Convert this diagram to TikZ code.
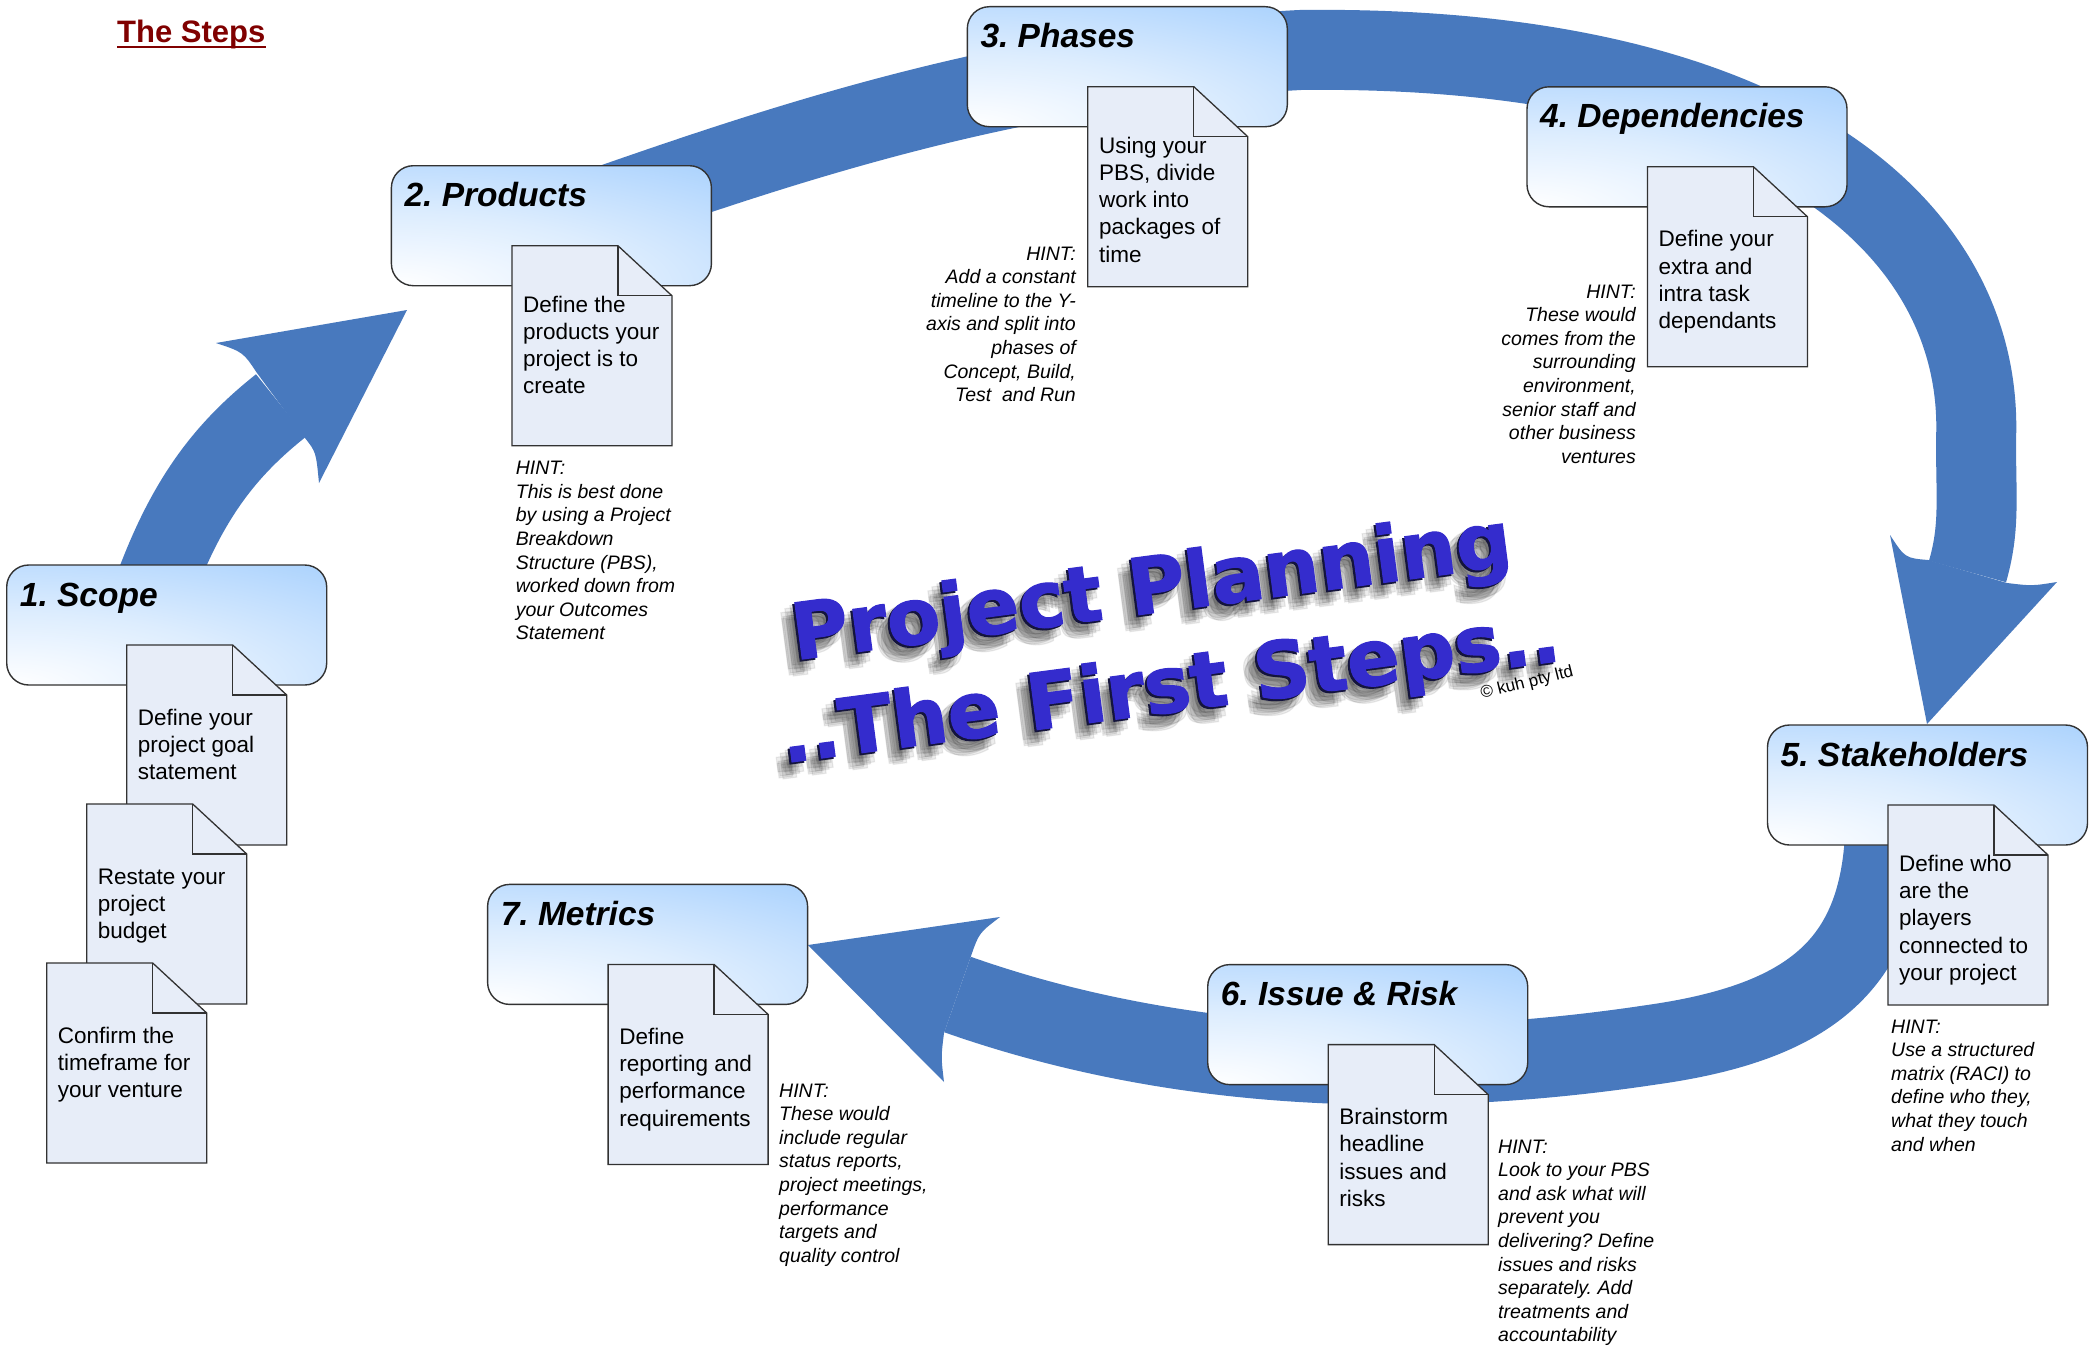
\documentclass[tikz,border=0pt]{standalone}
\usepackage{fontspec}
\setmainfont{Liberation Sans}
\newfontfamily\heavyfont[FakeBold=1.5]{DejaVu Sans}
\usetikzlibrary{calc}
\definecolor{arrowblue}{RGB}{72,121,190}
\definecolor{boxblue}{RGB}{157,203,253}
\definecolor{docfill}{RGB}{231,237,248}
\definecolor{edgegray}{RGB}{50,50,50}
\definecolor{stepsred}{RGB}{128,0,0}
\definecolor{ppblue}{RGB}{52,44,205}
\definecolor{ppdark}{RGB}{20,20,60}
\pgfdeclareradialshading{boxglow}{\pgfpoint{0bp}{0bp}}{color(0bp)=(white); color(7bp)=(boxblue!35!white); color(17bp)=(boxblue); color(50bp)=(boxblue)}
\tikzset{
  band/.style={draw=arrowblue, line width=80pt},
  head/.style={fill=arrowblue},
  boxframe/.style={draw=edgegray, line width=1.4pt, rounded corners=22pt, minimum width=320pt, minimum height=120pt, anchor=north west, inner sep=0pt, outer sep=0pt},
  boxtitle/.style={anchor=base west, inner sep=0pt, font=\fontsize{33.5}{40}\selectfont\bfseries\itshape},
  docframe/.style={minimum width=160pt, minimum height=200pt, anchor=north west, inner sep=0pt, outer sep=0pt},
  docline/.style={draw=edgegray, line width=1.3pt, fill=docfill, line join=miter},
  doctext/.style={anchor=base west, inner sep=0pt, align=left, font=\fontsize{22.5}{27.2}\selectfont},
  hintL/.style={anchor=base west, inner sep=0pt, align=left, font=\fontsize{19.5}{23.6}\selectfont\itshape},
  hintR/.style={anchor=base east, inner sep=0pt, align=right, font=\fontsize{19.5}{23.6}\selectfont\itshape},
  ppfont/.style={font=\heavyfont\bfseries\fontsize{78}{80}\selectfont, inner sep=0pt, anchor=base west, rotate=7.5},
}
\newcommand\StepBox[4]{%
  \begin{scope}
    \clip[rounded corners=22pt] (#2,#3) rectangle ++(320,120);
    \shade[shading=boxglow] (#2,#3+120) ellipse (880 and 260);
  \end{scope}
  \node[boxframe] (#1) at (#2,#3) {};
  \node[boxtitle] (#1t) at ([shift={(13pt,-41pt)}]#1.north west) {#4};
}
\newcommand\DocSheet[3]{%
  \node[docframe] (#1) at (#2,#3) {};
  \draw[docline] (#1.north west) -- ([xshift=106pt]#1.north west) -- ([yshift=-50pt]#1.north east) -- (#1.south east) -- (#1.south west) -- cycle;
  \draw[docline, fill=none] ([xshift=106pt]#1.north west) -- ([xshift=106pt,yshift=-50pt]#1.north west) -- ([yshift=-50pt]#1.north east);
}
% #1 name, #2 doc, #3 first-baseline offset, #4 number of lines, #5 text
\newcommand\DocText[5]{%
  \node[doctext] (#1) at ([shift={(11pt,{-#3pt-(#4-1)*27.2pt})}]#2.north west) {#5};
}
\frenchspacing
\begin{document}
\frenchspacing
\begin{tikzpicture}[x=1pt,y=-1pt]
\useasboundingbox (0,0) rectangle (2095,1346);
\fill[white] (0,0) rectangle (2095,1346);

% ---------- arrows ----------
\coordinate (aS) at (150,600);
\coordinate (aE) at (281,405.5);
\draw[band] (aS) .. controls (185,500) and (225,450) .. (aE);
\fill[head] (257,373) .. controls (243,352) .. (216,343) -- (407,310) -- (319,483) .. controls (316,452) .. (305,438) -- cycle;

\coordinate (bS) at (560,222);
\coordinate (bM) at (1300,50);
\coordinate (bE) at (1967.5,571.5);
\draw[band] (bS) .. controls (760,152) and (1000,66) .. (bM) .. controls (1780,44) and (1985,230) .. (1976,440) .. controls (1976,500) and (1980,528) .. (bE);
\fill[head] (1928,560) .. controls (1905,558) .. (1890,535) -- (1927,724) -- (2057,582) .. controls (2032,586) .. (2007,583) -- cycle;

\coordinate (cS) at (1885,790);
\coordinate (cM) at (1650,1045);
\coordinate (cE) at (957.5,994.5);
\draw[band] (cS) .. controls (1892,950) and (1830,1020) .. (cM) .. controls (1450,1075) and (1200,1080) .. (cE);
\fill[head] (971,956) .. controls (979,933) .. (1000,917) -- (808,945) -- (944,1082) .. controls (941,1057) .. (944,1033) -- cycle;

% ---------- step boxes ----------
\StepBox{b1}{6.7}{565}{1. Scope}
\StepBox{b2}{391.4}{165.7}{2. Products}
\StepBox{b3}{967.3}{6.7}{3. Phases}
\StepBox{b4}{1527}{86.8}{4. Dependencies}
\StepBox{b5}{1767.5}{725}{5. Stakeholders}
\StepBox{b6}{1207.7}{964.6}{6. Issue \& Risk}
\StepBox{b7}{487.6}{884.4}{7. Metrics}

% ---------- documents ----------
\DocSheet{d1a}{126.7}{645}
\DocSheet{d1b}{86.7}{804}
\DocSheet{d1c}{46.7}{963}
\DocSheet{d2}{511.9}{245.7}
\DocSheet{d3}{1087.8}{86.7}
\DocSheet{d4}{1647.5}{166.8}
\DocSheet{d5}{1888}{805}
\DocSheet{d6}{1328.2}{1044.6}
\DocSheet{d7}{608.1}{964.4}

\DocText{d1at}{d1a}{80}{3}{Define your\\project goal\\statement}
\DocText{d1bt}{d1b}{80}{3}{Restate your\\project\\budget}
\DocText{d1ct}{d1c}{80}{3}{Confirm the\\timeframe for\\your venture}
\DocText{d2t}{d2}{66.5}{4}{Define the\\products your\\project is to\\create}
\DocText{d3t}{d3}{66.5}{5}{Using your\\PBS, divide\\work into\\packages of\\time}
\DocText{d4t}{d4}{80}{4}{Define your\\extra and\\intra task\\dependants}
\DocText{d5t}{d5}{66.5}{5}{Define who\\are the\\players\\connected to\\your project}
\DocText{d6t}{d6}{80}{4}{Brainstorm\\headline\\issues and\\risks}
\DocText{d7t}{d7}{80}{4}{Define\\reporting and\\performance\\requirements}

% ---------- hints (anchored at baseline of last line) ----------
\node[hintL] (h2) at (515.7,474.6+165.2) {HINT:\\This is best done\\by using a Project\\Breakdown\\Structure (PBS),\\worked down from\\your Outcomes\\Statement};
\node[hintR] (h3) at (1076,260+141.6) {HINT:\\Add a constant\\timeline to the Y-\\axis and split into\\phases of\\Concept, Build,\\Test~ and Run};
\node[hintR] (h4) at (1636,298+165.2) {HINT:\\These would\\comes from the\\surrounding\\environment,\\senior staff and\\other business\\ventures};
\node[hintL] (h5) at (1891,1033+118) {HINT:\\Use a structured\\matrix (RACI) to\\define who they,\\what they touch\\and when};
\node[hintL] (h6) at (1498,1153+188.8) {HINT:\\Look to your PBS\\and ask what will\\prevent you\\delivering? Define\\issues and risks\\separately. Add\\treatments and\\accountability};
\node[hintL] (h7) at (779,1097+165.2) {HINT:\\These would\\include regular\\status reports,\\project meetings,\\performance\\targets and\\quality control};

% ---------- centre logo ----------
\foreach \dx/\dy [count=\i] in {-4/6,-8/10,-12/14,-6/13,-10/6,-2/11,-14/10,-9/17,-5/3,-13/16}{
  \node[ppfont, text=black, opacity=0.07] (ppa\i) at (795+\dx,660+\dy) {Project Planning};
  \node[ppfont, text=black, opacity=0.07] (ppb\i) at (784+\dx,763+\dy) {..The First Steps..};
}
\node[ppfont, text=ppdark] (ppad) at (793,662) {Project Planning};
\node[ppfont, text=ppdark] (ppbd) at (782,765) {..The First Steps..};
\node[ppfont, text=ppblue] (ppa) at (795,660) {Project Planning};
\node[ppfont, text=ppblue] (ppb) at (784,763) {..The First Steps..};
\node[anchor=base west, inner sep=0pt, rotate=14, font=\fontsize{17}{20}\selectfont] (kuh) at (1482,699) {© kuh pty ltd};

% ---------- title ----------
\node[anchor=base west, inner sep=0pt, text=stepsred, font=\fontsize{31}{36}\selectfont\bfseries] (title) at (117,42.5) {The Steps};
\draw[stepsred, line width=2.2pt] ([yshift=-4.5pt]title.base west) -- ([yshift=-4.5pt]title.base east);
\end{tikzpicture}
\end{document}
